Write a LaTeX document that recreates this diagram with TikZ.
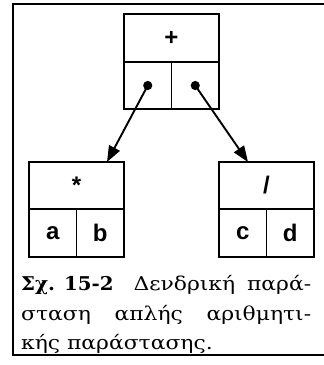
\documentclass[tikz,border=0pt]{standalone}
\usepackage{fontspec}
\setmainfont{DejaVu Serif}[FakeStretch=1.15, BoldFeatures={FakeStretch=1.04}]
\newfontfamily\boxfont{Liberation Sans}
\usetikzlibrary{arrows.meta}
\begin{document}
\begin{tikzpicture}[x=1pt,y=-1pt,
  cell/.style={draw, line width=1.8pt, inner sep=0pt, minimum width=#1, font=\boxfont\bfseries\fontsize{24}{26}\selectfont},
  cell/.default=95pt,
  link/.style={line width=1.9pt, -{Triangle[length=16pt,width=12pt]}},
  dotmark/.style={fill=black},
  captxt/.style={anchor=base west, inner sep=0pt, font=\fontsize{19}{24}\selectfont}]
\useasboundingbox (0,0) rectangle (324,365);
% frame
\draw[line width=2.4pt] (326,4) -- (13,4) -- (13,355) -- (326,355);
% top node
\node[cell=95pt, minimum height=48pt] (plus) at (171.5,38) {+};
\node[cell=47.5pt, minimum height=47pt] (pl) at (147.75,85.5) {};
\node[cell=47.5pt, minimum height=47pt] (pr) at (195.25,85.5) {};
% left node
\node[cell=95pt, minimum height=47pt] (mul) at (76.5,185.5) {*};
\node[cell=47.5pt, minimum height=48pt] (a) at (52.75,233) {a};
\node[cell=47.5pt, minimum height=48pt] (b) at (100.25,233) {b};
% right node
\node[cell=95pt, minimum height=47pt] (div) at (266.5,185.5) {/};
\node[cell=47.5pt, minimum height=48pt] (c) at (242.75,233) {c};
\node[cell=47.5pt, minimum height=48pt] (d) at (290.25,233) {d};
% pointers
\fill[dotmark] (pl.center) circle (4.6pt);
\fill[dotmark] (pr.center) circle (4.6pt);
\coordinate (lt) at (107,162);
\coordinate (rt) at (248,162);
\draw[link] (pl.center) -- (lt);
\draw[link] (pr.center) -- (rt);
% caption
\node[captxt] (cap1) at (21,290) {\hbox to 290pt{\textbf{Σχ. 15-2}\hspace{8pt}\hfill Δενδρική\hfill παρά-}};
\node[captxt] (cap2) at (21,320) {\hbox to 290pt{σταση\hfill απλής\hfill αριθμητι-}};
\node[captxt] (cap3) at (21,349) {κής παράστασης.};
\end{tikzpicture}
\end{document}
